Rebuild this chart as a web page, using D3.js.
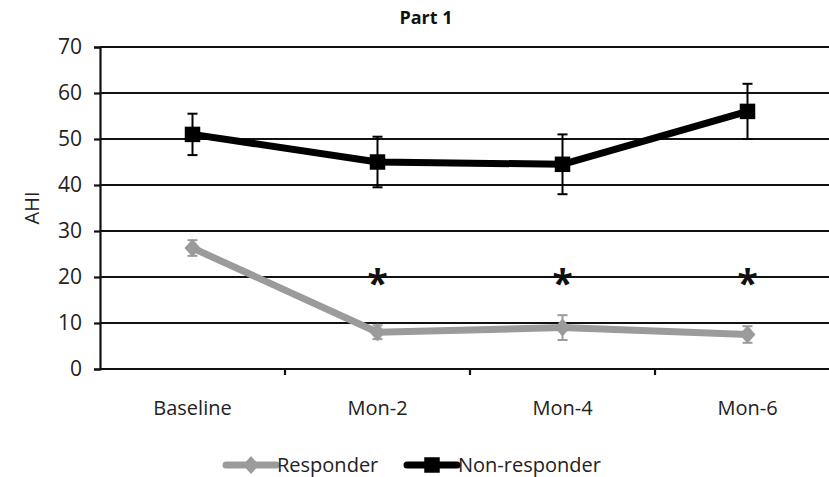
<!DOCTYPE html>
<html>
<head>
<meta charset="utf-8">
<script src="https://cdn.jsdelivr.net/npm/d3@7"></script>
<style>
  body { margin: 0; background: #fff; }
  svg { display: block; font-family: "Open Sans", "DejaVu Sans", sans-serif; }
</style>
</head>
<body>
<div id="chart"></div>
<script>
// Data
const categories = ["Baseline", "Mon-2", "Mon-4", "Mon-6"];
const responder = [26.3, 8, 9, 7.5];
const responderErr = [1.7, 1.5, 2.7, 1.8];
const nonResponder = [51, 45, 44.5, 56];
const nonResponderErr = [4.5, 5.5, 6.5, 6];
const significant = ["Mon-2", "Mon-4", "Mon-6"];
const starLevel = 19.3;
const yTicks = [0, 10, 20, 30, 40, 50, 60, 70];

const W = 829, H = 477;
const margin = { top: 47, left: 100, bottom: 108 };
const plotRight = 840; // plot area runs past the right edge of the picture

const svg = d3.select("#chart").append("svg")
  .attr("width", W).attr("height", H);

const x = d3.scaleBand().domain(categories).range([margin.left, plotRight]);
const y = d3.scaleLinear().domain([0, 70]).range([H - margin.bottom, margin.top]);
const cx = d => x(d) + x.bandwidth() / 2;

// Gridlines
svg.append("g")
  .selectAll("line")
  .data(yTicks)
  .join("line")
  .attr("x1", margin.left).attr("x2", plotRight)
  .attr("y1", d => y(d)).attr("y2", d => y(d))
  .attr("stroke", "#111").attr("stroke-width", 2.2);

// Y axis
const yAxis = svg.append("g")
  .attr("transform", `translate(${margin.left},0)`)
  .call(d3.axisLeft(y).tickValues(yTicks).tickSize(6).tickPadding(12));
yAxis.select(".domain").attr("stroke", "#111").attr("stroke-width", 2.2);
yAxis.selectAll(".tick line").attr("stroke", "#111").attr("stroke-width", 2.2);
yAxis.selectAll(".tick text")
  .attr("font-size", 21).attr("fill", "#222")
  .attr("font-family", "\"Open Sans\", sans-serif");

// X axis: ticks at band boundaries, labels centred in bands
const xAxis = svg.append("g")
  .attr("transform", `translate(0,${y(0)})`);
xAxis.append("line")
  .attr("x1", margin.left).attr("x2", plotRight)
  .attr("stroke", "#111").attr("stroke-width", 2.2);
xAxis.selectAll(".xtick")
  .data(categories.slice(1))
  .join("line")
  .attr("class", "xtick")
  .attr("x1", d => x(d)).attr("x2", d => x(d))
  .attr("y1", 0).attr("y2", 6)
  .attr("stroke", "#111").attr("stroke-width", 2.2);
xAxis.selectAll(".xlabel")
  .data(categories)
  .join("text")
  .attr("class", "xlabel")
  .attr("x", d => cx(d)).attr("y", 46)
  .attr("text-anchor", "middle")
  .attr("font-size", 20).attr("fill", "#222")
  .text(d => d);

// Title and y label
svg.append("text")
  .attr("x", 426).attr("y", 24)
  .attr("text-anchor", "middle")
  .attr("font-size", 18).attr("font-weight", "bold").attr("fill", "#111")
  .text("Part 1");
svg.append("text")
  .attr("transform", `translate(39,${(y(0) + y(70)) / 2}) rotate(-90)`)
  .attr("text-anchor", "middle")
  .attr("font-size", 20).attr("fill", "#222")
  .text("AHI");

const line = d3.line().x(d => cx(d.cat)).y(d => y(d.v));

function drawSeries(values, errs, color, marker) {
  const pts = categories.map((c, i) => ({ cat: c, v: values[i], e: errs[i] }));
  const g = svg.append("g");
  // error bars
  const eb = g.selectAll(".err").data(pts).join("g");
  eb.append("line")
    .attr("x1", d => cx(d.cat)).attr("x2", d => cx(d.cat))
    .attr("y1", d => y(d.v - d.e)).attr("y2", d => y(d.v + d.e))
    .attr("stroke", color).attr("stroke-width", 2);
  [-1, 1].forEach(s => {
    eb.append("line")
      .attr("x1", d => cx(d.cat) - 5).attr("x2", d => cx(d.cat) + 5)
      .attr("y1", d => y(d.v + s * d.e)).attr("y2", d => y(d.v + s * d.e))
      .attr("stroke", color).attr("stroke-width", 2);
  });
  g.append("path")
    .datum(pts)
    .attr("d", line)
    .attr("fill", "none").attr("stroke", color)
    .attr("stroke-width", 7).attr("stroke-linejoin", "round");
  g.selectAll(".mk").data(pts).join("path")
    .attr("d", marker)
    .attr("transform", d => `translate(${cx(d.cat)},${y(d.v)})`)
    .attr("fill", color);
}

const square = d3.symbol(d3.symbolSquare, 240)();
const diamond = "M0,-9L8,0L0,9L-8,0Z";

drawSeries(responder, responderErr, "#9b9b9b", diamond);
drawSeries(nonResponder, nonResponderErr, "#000", square);

// Significance markers
svg.selectAll(".star")
  .data(significant)
  .join("text")
  .attr("class", "star")
  .attr("x", d => cx(d)).attr("y", y(starLevel) + 17)
  .attr("text-anchor", "middle")
  .attr("font-size", 38).attr("font-weight", "bold").attr("fill", "#111")
  .text("*");

// Legend
const legendItems = [
  { name: "Responder", color: "#9b9b9b", marker: diamond, x: 226 },
  { name: "Non-responder", color: "#000", marker: square, x: 407 }
];
const lg = svg.selectAll(".legend").data(legendItems).join("g")
  .attr("class", "legend")
  .attr("transform", d => `translate(${d.x},465)`);
lg.append("line")
  .attr("x1", 0).attr("x2", 50)
  .attr("stroke", d => d.color).attr("stroke-width", 7)
  .attr("stroke-linecap", "round");
lg.append("path")
  .attr("d", d => d.marker)
  .attr("transform", "translate(25,0)")
  .attr("fill", d => d.color);
lg.append("text")
  .attr("x", 51).attr("y", 7)
  .attr("font-size", 20).attr("fill", "#222")
  .text(d => d.name);
</script>
</body>
</html>
